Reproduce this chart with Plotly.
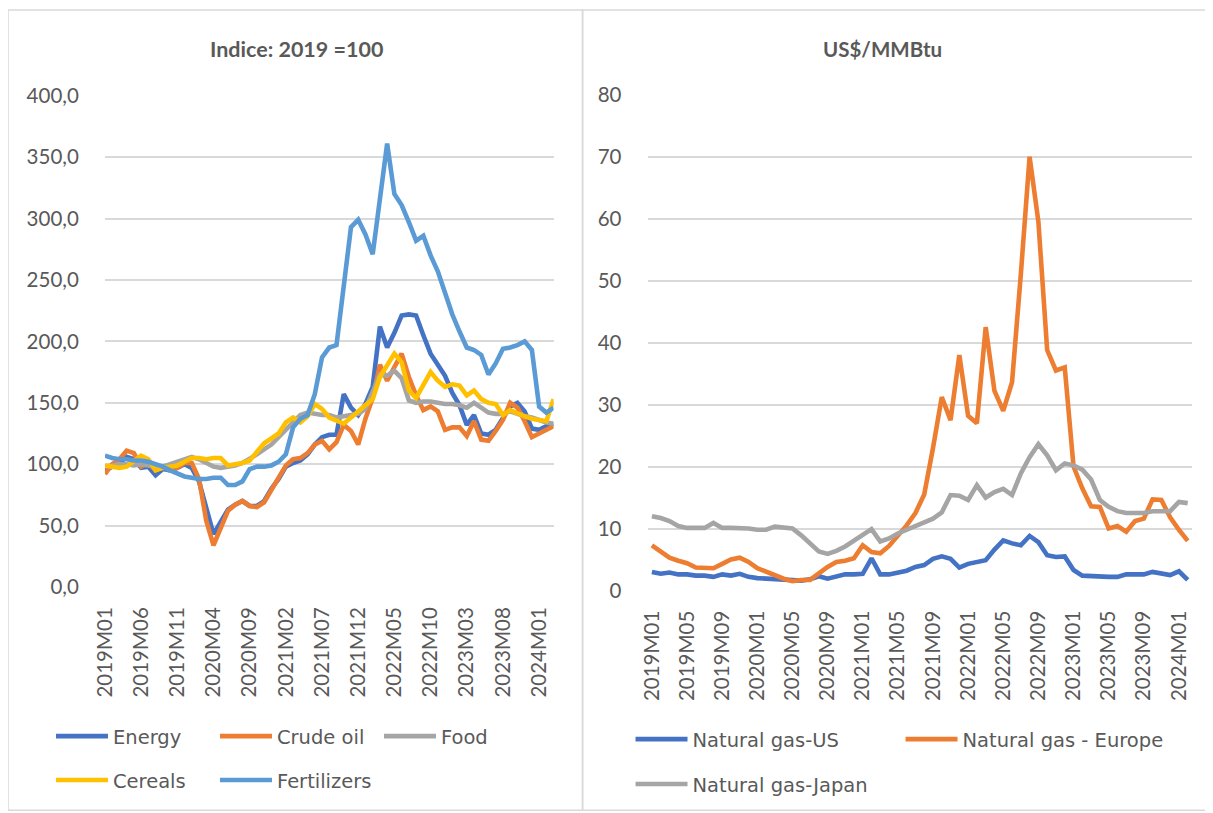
import plotly.graph_objects as go

# ---------------- data ----------------
months_commod = [f"{y}M{m:02d}" for y in range(2019, 2025) for m in range(1, 13)][:63]
months_gas = months_commod[:62]

energy = [95, 98, 101, 106, 104, 97, 98, 91, 96, 95, 97, 100,
          97, 86, 63, 43, 53, 63, 67, 70, 66, 66, 70, 80,
          88, 98, 101, 103, 108, 116, 122, 124, 124, 157, 146, 140,
          149, 163, 212, 195, 207, 221, 222, 221, 205, 190, 181, 172,
          158, 148, 132, 140, 125, 124, 128, 137, 147, 150, 143, 129,
          128, 131, 133]
crude_oil = [92, 100, 104, 111, 109, 98, 101, 95, 98, 95, 97, 101,
             101, 88, 54, 34, 48, 62, 67, 70, 66, 65, 69, 79,
             88, 99, 104, 105, 109, 116, 119, 112, 118, 132, 127, 116,
             137, 154, 181, 168, 179, 190, 171, 156, 144, 147, 143, 128,
             130, 130, 123, 135, 120, 119, 127, 136, 150, 146, 135, 122,
             125, 128, 131]
food = [98, 99, 100, 100, 99, 100, 99, 98, 98, 100, 102, 104,
        106, 104, 101, 98, 97, 98, 99, 101, 104, 108, 112, 116,
        122, 128, 134, 140, 142, 141, 140, 140, 138, 139, 140, 141,
        145, 158, 173, 172, 176, 170, 152, 150, 151, 151, 150, 149,
        149, 148, 146, 150, 146, 142, 141, 141, 143, 141, 139, 138,
        136, 134, 133]
cereals = [99, 98, 97, 98, 103, 107, 104, 95, 97, 98, 99, 102,
           105, 105, 104, 105, 105, 99, 100, 101, 103, 110, 117, 121,
           125, 134, 138, 134, 139, 149, 145, 138, 135, 133, 138, 143,
           147, 153, 171, 180, 190, 183, 160, 154, 165, 175, 168, 163,
           165, 164, 156, 160, 153, 150, 149, 140, 144, 141, 139, 137,
           136, 135, 153]
fertilizers = [107, 105, 104, 104, 103, 103, 102, 100, 98, 95, 92, 90,
               89, 88, 88, 89, 89, 83, 83, 86, 96, 98, 98, 99,
               102, 108, 130, 137, 140, 157, 187, 195, 197, 249, 293, 299,
               287, 271, 315, 361, 320, 311, 297, 282, 286, 270, 257, 240,
               222, 208, 195, 193, 189, 173, 182, 194, 195, 197, 200, 193,
               147, 142, 146]

gas_us = [3.0, 2.7, 2.9, 2.6, 2.6, 2.4, 2.4, 2.2, 2.6, 2.4, 2.7, 2.2,
          2.0, 1.9, 1.8, 1.7, 1.7, 1.6, 1.8, 2.3, 1.9, 2.2, 2.6, 2.6,
          2.7, 5.2, 2.6, 2.6, 2.9, 3.2, 3.8, 4.1, 5.1, 5.5, 5.1, 3.7,
          4.3, 4.6, 4.9, 6.6, 8.1, 7.6, 7.3, 8.8, 7.8, 5.7, 5.4, 5.5,
          3.3, 2.4, 2.3, 2.2, 2.2, 2.2, 2.6, 2.6, 2.6, 3.0, 2.7, 2.5,
          3.1, 1.7]
gas_europe = [7.3, 6.2, 5.3, 4.8, 4.4, 3.7, 3.6, 3.6, 4.3, 5.0, 5.3, 4.6,
              3.6, 3.0, 2.6, 1.9, 1.5, 1.7, 1.7, 2.8, 3.8, 4.6, 4.8, 5.2,
              7.3, 6.2, 6.0, 7.2, 8.9, 10.5, 12.5, 15.5, 23.0, 31.2, 27.5, 38.0,
              28.2, 27.0, 42.5, 32.2, 29.0, 33.6, 51.0, 70.0, 59.5, 38.8, 35.5, 36.0,
              20.0, 16.5, 13.6, 13.5, 10.0, 10.4, 9.5, 11.2, 11.6, 14.7, 14.6, 11.8,
              9.8, 8.0]
gas_japan = [12.0, 11.7, 11.2, 10.4, 10.1, 10.1, 10.1, 10.9, 10.1, 10.1, 10.1, 10.0,
             9.8, 9.8, 10.3, 10.1, 10.0, 8.9, 7.6, 6.3, 5.9, 6.4, 7.1, 8.0,
             8.8, 9.9, 7.9, 8.4, 9.2, 9.8, 10.6, 11.0, 11.6, 12.6, 15.4, 15.3,
             14.6, 17.0, 15.0, 15.9, 16.4, 15.4, 18.9, 21.5, 23.6, 21.8, 19.4, 20.5,
             20.2, 19.5, 17.9, 14.6, 13.5, 12.8, 12.5, 12.5, 12.5, 12.8, 12.8, 12.8,
             14.3, 14.1]

left_ticks = months_commod[::5]
right_ticks = months_gas[::4]

# ---------------- layout helpers ----------------
# the page photo maps figure pixels as photo = A + S * fig; these undo it
AX, SX = 18.0, 0.990
AY, SY = 19.0, 0.974
W, H = 1208, 816
FONT = "Lato, 'Open Sans', sans-serif"
LFONT = "'DejaVu Sans', sans-serif"
TXT = "#595959"
GRID = "#D9D9D9"


def px(x):
    return ((x - AX) / SX) / W


def py(y):
    return 1 - ((y - AY) / SY) / H


fig = go.Figure()

left_series = [
    ("Energy", energy, "#4472C4", "legend"),
    ("Crude oil", crude_oil, "#ED7D31", "legend"),
    ("Food", food, "#A5A5A5", "legend"),
    ("Cereals", cereals, "#FFC000", "legend2"),
    ("Fertilizers", fertilizers, "#5B9BD5", "legend2"),
]
for name, vals, col, lg in left_series:
    fig.add_trace(go.Scatter(x=months_commod, y=vals, name=name, mode="lines",
                             line=dict(color=col, width=4.6), xaxis="x", yaxis="y",
                             legend=lg))

right_series = [
    ("Natural gas-US", gas_us, "#4472C4", "legend3"),
    ("Natural gas - Europe", gas_europe, "#ED7D31", "legend3"),
    ("Natural gas-Japan", gas_japan, "#A5A5A5", "legend4"),
]
for name, vals, col, lg in right_series:
    fig.add_trace(go.Scatter(x=months_gas, y=vals, name=name, mode="lines",
                             line=dict(color=col, width=4.6), xaxis="x2", yaxis="y2",
                             legend=lg))

tickfont = dict(family=FONT, size=20.5, color=TXT)
common_x = dict(type="category", tickmode="array", tickangle=-90, tickfont=tickfont,
                showgrid=False, zeroline=False, showline=False, ticks="outside",
                ticklen=11, tickcolor="rgba(0,0,0,0)")
common_y = dict(tickfont=tickfont, showgrid=True, gridcolor=GRID, gridwidth=1.5,
                zeroline=False, showline=False, ticks="outside", ticklen=21,
                tickcolor="rgba(0,0,0,0)")

legend_common = dict(orientation="h", xanchor="left", yanchor="middle",
                     font=dict(family=LFONT, size=19.5, color=TXT),
                     bgcolor="rgba(0,0,0,0)", entrywidthmode="pixels", itemwidth=52)

fig.update_layout(
    width=W, height=H,
    margin=dict(l=0, r=0, t=0, b=0),
    paper_bgcolor="white", plot_bgcolor="white",
    separators=", ",
    xaxis=dict(domain=[px(102), px(551)], range=[0, 62], tickvals=left_ticks,
               anchor="y", **common_x),
    yaxis=dict(domain=[py(587), py(94)], range=[0, 400], dtick=50, tickformat=".1f",
               anchor="x", **common_y),
    xaxis2=dict(domain=[px(645), px(1190)], range=[-0.5, 61.5], tickvals=right_ticks,
                anchor="y2", **common_x),
    yaxis2=dict(domain=[py(590.5), py(93)], range=[0, 80], dtick=10, tickformat="d",
                anchor="x2", **common_y),
    legend=dict(x=px(48), y=py(737), entrywidth=97, **legend_common),
    legend2=dict(x=px(48), y=py(781), entrywidth=97, **legend_common),
    legend3=dict(x=px(628), y=py(740), entrywidth=203, **legend_common),
    legend4=dict(x=px(628), y=py(785), entrywidth=203, **legend_common),
    annotations=[
        dict(text="<b>Indice: 2019 =100</b>", x=px(294), y=py(47), xref="paper", yref="paper",
             xanchor="center", yanchor="middle", showarrow=False,
             font=dict(family=FONT, size=21.5, color=TXT)),
        dict(text="<b>US$/MMBtu</b>", x=px(880), y=py(47), xref="paper", yref="paper",
             xanchor="center", yanchor="middle", showarrow=False,
             font=dict(family=FONT, size=20.5, color=TXT)),
    ],
    shapes=[
        dict(type="rect", xref="paper", yref="paper", x0=px(5), x1=px(580), y0=py(811), y1=py(8),
             line=dict(color=GRID, width=1.5), fillcolor="rgba(0,0,0,0)"),
        dict(type="rect", xref="paper", yref="paper", x0=px(580), x1=px(1210), y0=py(811), y1=py(8),
             line=dict(color=GRID, width=1.5), fillcolor="rgba(0,0,0,0)"),
    ],
)

fig.write_html("out.html")
